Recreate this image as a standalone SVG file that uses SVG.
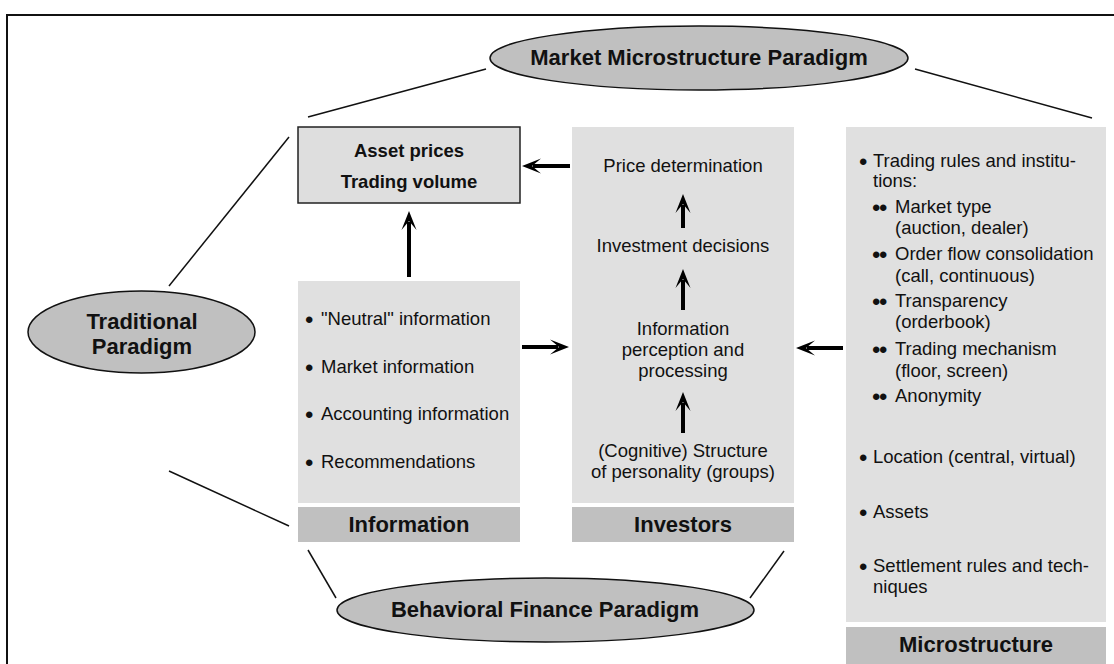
<svg xmlns="http://www.w3.org/2000/svg" width="1114" height="664" viewBox="0 0 1114 664">
<defs>
<style>
.t{font-family:"Liberation Sans",Arial,sans-serif;fill:#111;font-size:18.5px}
.b{font-weight:bold}
.c{text-anchor:middle}
.big{font-size:22px;font-weight:bold}
.bu{font-family:"Liberation Sans",Arial,sans-serif;fill:#111;font-size:24px}
.bb{letter-spacing:-1.5px}
.box{fill:#e0e0e0}
.bar{fill:#c0c0c0}
.ell{fill:#c0c0c0;stroke:#111;stroke-width:1.5}
.ln{stroke:#111;stroke-width:1.5;fill:none}
.ar{stroke:#000;stroke-width:4;fill:none}
</style>
<marker id="ah" markerUnits="userSpaceOnUse" markerWidth="22" markerHeight="18" viewBox="0 -9 22 18" refX="8" refY="0" orient="auto">
<path d="M0,-7.5 L19,0 L0,7.5 L9,0 Z" fill="#000"/>
</marker>
</defs>
<rect x="7" y="15" width="1130" height="700" fill="none" stroke="#111" stroke-width="2"/>

<g id="market-paradigm">
<ellipse class="ell" cx="699" cy="58" rx="209" ry="32"/>
<text class="t big c" x="699" y="65">Market Microstructure Paradigm</text>
</g>

<g id="traditional-paradigm">
<ellipse class="ell" cx="141.5" cy="332" rx="113.5" ry="41"/>
<text class="t big c" x="142" y="329">Traditional</text>
<text class="t big c" x="142" y="354">Paradigm</text>
</g>

<g id="behavioral-paradigm">
<ellipse class="ell" cx="545.5" cy="610" rx="208.5" ry="32"/>
<text class="t big c" x="545" y="617">Behavioral Finance Paradigm</text>
</g>

<g id="asset-prices">
<rect x="298" y="127" width="222" height="76" fill="#dedede" stroke="#222" stroke-width="1.5"/>
<text class="t b c" x="409" y="157">Asset prices</text>
<text class="t b c" x="409" y="188">Trading volume</text>
</g>

<g id="information">
<rect class="box" x="298" y="281" width="222" height="222"/>
<rect class="bar" x="298" y="507" width="222" height="35"/>
<text class="t big c" x="409" y="532">Information</text>
<text class="bu" x="305" y="328">•</text>
<text class="t" x="321" y="325">"Neutral" information</text>
<text class="bu" x="305" y="376">•</text>
<text class="t" x="321" y="373">Market information</text>
<text class="bu" x="305" y="423">•</text>
<text class="t" x="321" y="420">Accounting information</text>
<text class="bu" x="305" y="471">•</text>
<text class="t" x="321" y="468">Recommendations</text>
</g>

<g id="investors">
<rect class="box" x="572" y="127" width="222" height="376"/>
<rect class="bar" x="572" y="507" width="222" height="35"/>
<text class="t big c" x="683" y="532">Investors</text>
<text class="t c" x="683" y="172">Price determination</text>
<text class="t c" x="683" y="252">Investment decisions</text>
<text class="t c" x="683" y="335">Information</text>
<text class="t c" x="683" y="356">perception and</text>
<text class="t c" x="683" y="377">processing</text>
<text class="t c" x="683" y="457">(Cognitive) Structure</text>
<text class="t c" x="683" y="478">of personality (groups)</text>
</g>

<g id="microstructure">
<rect class="box" x="846" y="127" width="260" height="495"/>
<rect class="bar" x="846" y="627" width="260" height="40"/>
<text class="t big c" x="976" y="652">Microstructure</text>
<text class="bu" x="859" y="170">•</text>
<text class="t" x="873" y="167">Trading rules and institu-</text>
<text class="t" x="873" y="187">tions:</text>
<text class="bu bb" x="872" y="216">••</text>
<text class="t" x="895" y="213">Market type</text>
<text class="t" x="895" y="234">(auction, dealer)</text>
<text class="bu bb" x="872" y="263">••</text>
<text class="t" x="895" y="260">Order flow consolidation</text>
<text class="t" x="895" y="282">(call, continuous)</text>
<text class="bu bb" x="872" y="310">••</text>
<text class="t" x="895" y="307">Transparency</text>
<text class="t" x="895" y="328">(orderbook)</text>
<text class="bu bb" x="872" y="358">••</text>
<text class="t" x="895" y="355">Trading mechanism</text>
<text class="t" x="895" y="377">(floor, screen)</text>
<text class="bu bb" x="872" y="405">••</text>
<text class="t" x="895" y="402">Anonymity</text>
<text class="bu" x="859" y="466">•</text>
<text class="t" x="873" y="463">Location (central, virtual)</text>
<text class="bu" x="859" y="521">•</text>
<text class="t" x="873" y="518">Assets</text>
<text class="bu" x="859" y="575">•</text>
<text class="t" x="873" y="572">Settlement rules and tech-</text>
<text class="t" x="873" y="593">niques</text>
</g>

<g id="connectors">
<line class="ln" x1="486" y1="69" x2="308" y2="117"/>
<line class="ln" x1="915" y1="69" x2="1092" y2="118"/>
<line class="ln" x1="169" y1="286" x2="289" y2="137"/>
<line class="ln" x1="169" y1="471" x2="289" y2="526"/>
<line class="ln" x1="308" y1="550" x2="336" y2="598"/>
<line class="ln" x1="750" y1="598" x2="784" y2="551"/>
<line class="ar" x1="409" y1="277" x2="409" y2="222" marker-end="url(#ah)"/>
<line class="ar" x1="570" y1="166" x2="533" y2="166" marker-end="url(#ah)"/>
<line class="ar" x1="522" y1="347" x2="558" y2="347" marker-end="url(#ah)"/>
<line class="ar" x1="843" y1="348" x2="807" y2="348" marker-end="url(#ah)"/>
<line class="ar" x1="683" y1="228" x2="683" y2="205" marker-end="url(#ah)"/>
<line class="ar" x1="683" y1="310" x2="683" y2="280" marker-end="url(#ah)"/>
<line class="ar" x1="683" y1="433" x2="683" y2="403" marker-end="url(#ah)"/>
</g>
</svg>
